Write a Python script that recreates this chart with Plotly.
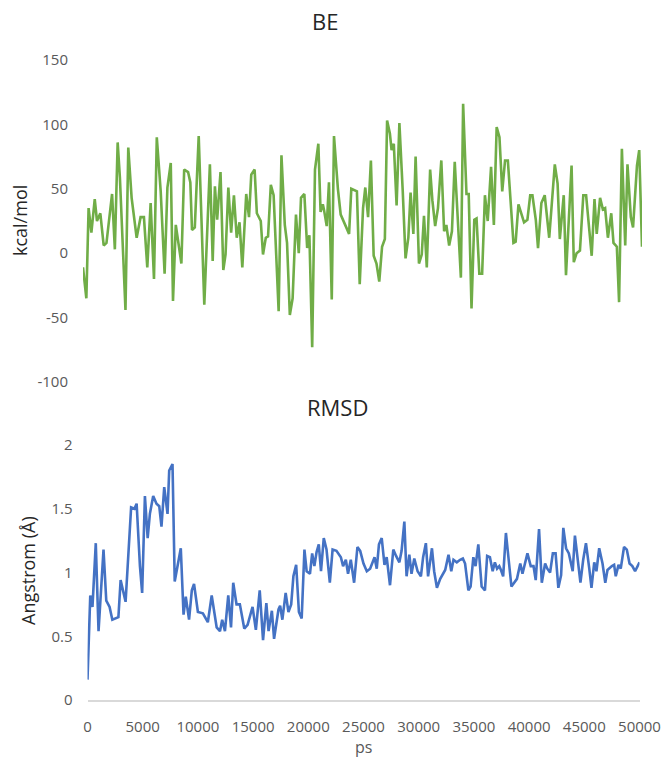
import plotly.graph_objects as go

# ---- BE (kcal/mol) ----
be_ps = [0, 300, 500, 750, 1050, 1250, 1550, 1850, 2100, 2600, 2850, 3100, 3300, 3800, 4050, 4350,
         4800, 5150, 5450, 5750, 6050, 6350, 6600, 6950, 7300, 7550, 7850, 8050, 8300, 8800, 9050,
         9400, 9600, 9750, 10000, 10350, 10850, 11350, 11600, 11800, 12000, 12300, 12550, 12750,
         13000, 13250, 13500, 13750, 14000, 14250, 14600, 14850, 15050, 15350, 15550, 15900, 16100,
         16350, 16550, 16800, 17050, 17500, 17750, 18050, 18250, 18500, 18750, 19050, 19300, 19500,
         19800, 20050, 20250, 20500, 20750, 21050, 21250, 21450, 21550, 21800, 22000, 22250, 22450,
         22800, 23050, 23500, 23800, 24000, 24500, 24750, 25050, 25250, 25500, 25750, 26000, 26250,
         26500, 26750, 27000, 27200, 27450, 27600, 27800, 28050, 28300, 28600, 28850, 29100, 29300,
         29550, 29750, 30050, 30300, 30500, 30750, 31050, 31250, 31500, 31750, 32050, 32300, 32500,
         32750, 33000, 33250, 33800, 34000, 34300, 34500, 34750, 35000, 35200, 35450, 35700, 35950,
         36200, 36500, 36750, 37000, 37250, 37500, 37750, 38000, 38500, 38700, 38950, 39450, 39750,
         40000, 40200, 40500, 40700, 41000, 41300, 41700, 42200, 42450, 42650, 43000, 43200, 43700,
         43900, 44150, 44450, 44750, 45000, 45500, 45750, 45950, 46250, 46500, 46700, 46950, 47250,
         47450, 47750, 47950, 48200, 48500, 48700, 49000, 49200, 49550, 49750, 50000]
be_val = [-11, -35, 35, 16, 42, 25, 31, 6, 8, 46, 3, 86, 59, -44, 82, 43,
          12, 28, 28, -11, 39, -20, 90, 48, -16, 51, 70, -37, 22, -8, 65,
          63, 55, 18, 20, 91, -40, 69, -6, 52, 26, 63, -13, -1,
          51, 16, 45, 12, 24, -11, 46, 28, 61, 65, 31, 25, -1,
          12, 13, 53, 45, -45, 76, 22, 8, -48, -35, 30, 0, 43,
          46, 4, 14, -73, 65, 85, 32, 38, 34, 21, 55, -36, 91,
          50, 30, 21, 15, 50, 48, -24, 35, 51, 28, 72, -2, -8,
          -22, 5, 11, 103, 93, 80, 85, 37, 101, 48, -4, 12, 47,
          15, 75, -8, -1, 29, -11, 65, 41, 21, 35, 72, 17, 22,
          6, 17, 71, -19, 116, 46, 46, -43, 26, 27, -16, -16, 45,
          25, 67, 22, 98, 90, 48, 72, 72, 8, 9, 38, 24, 26,
          45, 45, 26, 4, 39, 45, 12, 69, 54, 11, 45, -17, 68,
          -7, 0, 2, 45, 45, -2, 42, 15, 43, 34, 35, 12, 31,
          8, 5, -38, 81, 6, 69, 28, 20, 68, 80, 5]

# ---- RMSD (Angstrom) ----
rmsd_ps = [0, 250, 450, 750, 1000, 1450, 1700, 2000, 2250, 2800, 3000, 3450, 3950, 4250, 4450, 4750,
           4950, 5200, 5450, 5650, 5950, 6250, 6500, 6700, 6950, 7250, 7400, 7700, 7900, 8150, 8450,
           8700, 8900, 9200, 9450, 9650, 10000, 10450, 10900, 11250, 11700, 12000, 12200, 12450,
           12750, 13000, 13200, 13500, 13800, 14200, 14500, 14950, 15250, 15600, 15900, 16200, 16400,
           16700, 16900, 17300, 17450, 17650, 17950, 18200, 18450, 18650, 18900, 19150, 19400, 19650,
           19850, 20150, 20350, 20550, 20750, 20950, 21150, 21400, 21650, 21950, 22200, 22550, 22950,
           23150, 23400, 23600, 23850, 24150, 24450, 24700, 25000, 25300, 25600, 26000, 26200, 26400,
           26650, 26900, 27100, 27400, 27700, 27950, 28250, 28450, 28700, 28900, 29150, 29350, 29600,
           29900, 30200, 30400, 30650, 30850, 31200, 31400, 31650, 31950, 32400, 32700, 32950, 33150,
           33450, 33750, 34000, 34200, 34500, 34700, 34950, 35150, 35400, 35700, 36000, 36200, 36450,
           36700, 36900, 37100, 37300, 37450, 37650, 37900, 38200, 38400, 38900, 39200, 39400, 39650,
           39850, 40150, 40400, 40600, 40900, 41150, 41450, 41650, 41900, 42150, 42400, 42650, 42900,
           43100, 43350, 43600, 43950, 44150, 44400, 44650, 44900, 45150, 45450, 45650, 45900, 46100,
           46350, 46650, 46900, 47100, 47500, 47700, 47850, 48100, 48300, 48600, 48850, 49100, 49350,
           49600, 50000]
rmsd_val = [0.16, 0.82, 0.73, 1.23, 0.54, 1.18, 0.78, 0.73, 0.63, 0.65, 0.94, 0.77, 1.51, 1.50, 1.54, 1.05,
            0.84, 1.60, 1.27, 1.46, 1.60, 1.54, 1.52, 1.36, 1.67, 1.46, 1.80, 1.85, 0.93, 1.05, 1.19,
            0.67, 0.81, 0.63, 0.86, 0.91, 0.69, 0.68, 0.61, 0.82, 0.57, 0.54, 0.63, 0.54,
            0.82, 0.57, 0.92, 0.75, 0.75, 0.56, 0.59, 0.73, 0.55, 0.86, 0.47, 0.76, 0.54,
            0.70, 0.48, 0.71, 0.74, 0.63, 0.84, 0.69, 0.75, 0.97, 1.06, 0.69, 0.64, 1.18,
            1.01, 0.99, 1.15, 1.05, 1.16, 1.22, 1.01, 1.27, 1.18, 0.92, 1.18, 1.17, 1.12,
            1.05, 1.10, 0.99, 1.10, 0.92, 1.20, 1.17, 1.07, 1.01, 1.03, 1.12, 1.03, 1.22,
            1.27, 1.06, 1.12, 0.90, 1.18, 1.13, 1.08, 1.17, 1.40, 0.97, 1.14, 0.99, 1.11,
            1.01, 0.97, 1.12, 1.23, 0.97, 1.19, 1.01, 0.88, 0.95, 1.02, 1.14, 1.01, 1.10,
            1.08, 1.10, 1.11, 1.07, 0.86, 0.89, 1.12, 1.05, 1.22, 0.89, 0.86, 1.13, 1.12,
            1.01, 1.08, 1.03, 1.05, 1.02, 0.97, 1.31, 1.07, 0.89, 0.95, 1.07, 0.99, 1.07,
            1.15, 1.05, 1.05, 0.94, 1.34, 0.92, 1.07, 1.03, 1.00, 1.15, 1.15, 0.88, 0.98,
            1.35, 1.19, 1.15, 1.01, 1.29, 1.10, 0.92, 1.10, 1.23, 1.03, 0.88, 1.08, 1.01,
            1.19, 1.07, 0.92, 1.02, 1.05, 1.06, 0.97, 1.06, 1.03, 1.20, 1.18, 1.07, 1.05,
            1.01, 1.08]

be_ticks = [-100, -50, 0, 50, 100, 150]
be_ticktext = ["-100", "-50", "0", "50", "100", "150"]
rmsd_ticks = [0, 0.5, 1, 1.5, 2]
rmsd_ticktext = ["0", "0.5", "1", "1.5", "2"]
x_ticks = [0, 5000, 10000, 15000, 20000, 25000, 30000, 35000, 40000, 45000, 50000]
x_ticktext = ["0", "5000", "10000", "15000", "20000", "25000", "30000", "35000", "40000",
              "45000", "50000"]

W, H = 662, 757
FONT = "Open Sans"
TICKC = "#595959"

fig = go.Figure()
fig.add_trace(go.Scatter(x=be_ps, y=be_val, mode="lines", xaxis="x", yaxis="y",
                         line=dict(color="#70AD47", width=2.6), showlegend=False))
fig.add_trace(go.Scatter(x=rmsd_ps, y=rmsd_val, mode="lines", xaxis="x2", yaxis="y2",
                         line=dict(color="#4472C4", width=2.6), showlegend=False))

def px_x(x):
    return x / W

def px_y(y):
    return 1 - y / H

fig.update_layout(
    template="none",
    width=W, height=H,
    margin=dict(l=0, r=0, t=0, b=0, pad=0, autoexpand=False),
    paper_bgcolor="white", plot_bgcolor="white",
    font=dict(family=FONT, color=TICKC, size=15),
    xaxis=dict(domain=[px_x(83), px_x(642)], anchor="y", range=[0, 50000],
               showticklabels=False, showline=False, showgrid=False, zeroline=False,
               ticks="", automargin=False),
    yaxis=dict(domain=[px_y(382), px_y(60)], anchor="x", range=[-100, 150],
               tickvals=be_ticks, ticktext=be_ticktext, showgrid=False, zeroline=False,
               showline=False, ticks="", ticklabelstandoff=14, automargin=False,
               tickfont=dict(size=15, color=TICKC)),
    xaxis2=dict(domain=[px_x(87.5), px_x(639.5)], anchor="y2", range=[0, 50000],
                tickvals=x_ticks, ticktext=x_ticktext, showgrid=False, zeroline=False,
                showline=True, linecolor="#D9D9D9", linewidth=1.5, ticks="",
                ticklabelstandoff=12, automargin=False,
                tickfont=dict(size=15, color=TICKC)),
    yaxis2=dict(domain=[px_y(700), px_y(445)], anchor="x2", range=[0, 2],
                tickvals=rmsd_ticks, ticktext=rmsd_ticktext, showgrid=False,
                zeroline=False, showline=False, ticks="", ticklabelstandoff=14,
                automargin=False, tickfont=dict(size=15, color=TICKC)),
    annotations=[
        dict(text="BE", x=px_x(325), y=px_y(21), xref="paper", yref="paper",
             showarrow=False, xanchor="center", yanchor="middle",
             font=dict(size=22, color="#262626", family=FONT)),
        dict(text="RMSD", x=px_x(337), y=px_y(407), xref="paper", yref="paper",
             showarrow=False, xanchor="center", yanchor="middle",
             font=dict(size=22, color="#262626", family=FONT)),
        dict(text="kcal/mol", x=px_x(20), y=px_y(221), xref="paper", yref="paper",
             showarrow=False, xanchor="center", yanchor="middle", textangle=-90,
             font=dict(size=18, color="#262626", family=FONT)),
        dict(text="Angstrom (Å)", x=px_x(28), y=px_y(571), xref="paper", yref="paper",
             showarrow=False, xanchor="center", yanchor="middle", textangle=-90,
             font=dict(size=18, color="#262626", family=FONT)),
        dict(text="ps", x=px_x(363), y=px_y(747), xref="paper", yref="paper",
             showarrow=False, xanchor="center", yanchor="middle",
             font=dict(size=16, color=TICKC, family=FONT)),
    ],
)

fig.write_html("out.html", config={"displayModeBar": False},
               post_script="document.body.style.margin='0';document.body.style.overflow='hidden';")
